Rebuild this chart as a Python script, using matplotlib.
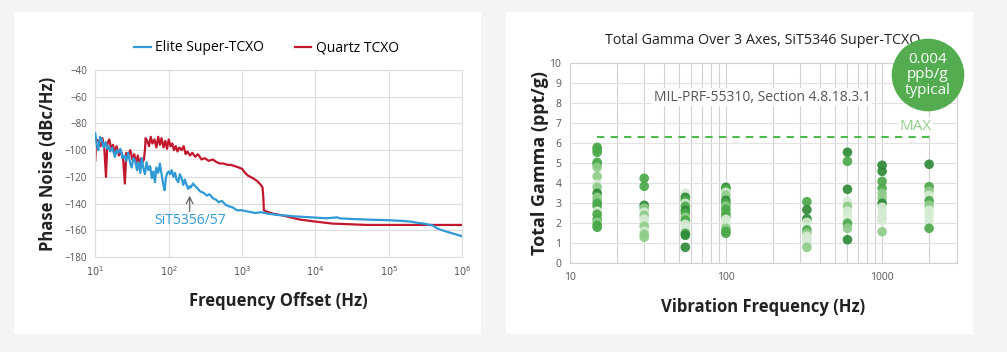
import matplotlib.pyplot as plt
import numpy as np
from matplotlib.patches import Rectangle, Ellipse

plt.rcParams['font.family'] = ['Open Sans', 'DejaVu Sans']

# ---- left chart: phase noise ----
elite_freq = [10, 10.5, 11, 11.6, 12.2, 13, 13.8, 14.5, 15, 16, 17, 18.5, 19.5, 20.5, 22,
              23.5, 25, 26.5, 28, 30, 31.5, 33, 35, 37, 39, 41, 43, 45, 47.5, 50, 53, 56,
              59, 62, 65, 68, 72, 76, 80, 84, 88, 92, 96, 100, 105, 110, 116, 122, 128,
              135, 142, 150, 158, 166, 175, 185, 193, 200, 215, 230, 250, 270, 300, 330,
              360, 400, 440, 480, 530, 600, 660, 750, 850, 1000, 1200, 1500, 1850, 2200,
              2600, 3000, 4000, 5000, 7000, 10000, 14000, 20000, 21000, 30000, 50000,
              100000, 150000, 200000, 250000, 300000, 400000, 450000, 500000, 700000, 1000000]
elite_db = [-87.5, -96, -100, -90, -92, -98, -94, -99, -97, -101, -98, -105, -100, -102, -99,
            -106, -104, -108, -102, -110, -113, -106, -108, -115, -109, -117, -106, -113, -118,
            -109, -115, -112, -121, -116, -124, -113, -117, -110, -118, -125, -130, -120,
            -117, -116, -118, -115, -120, -117, -122, -124, -118, -121, -126, -122, -126,
            -129, -127, -128, -125, -127, -129, -131, -132, -134, -133, -136, -137, -139,
            -138, -141, -142, -143, -145, -145, -146, -147, -146.5, -147.5, -148, -148.5,
            -149, -149.5, -150, -150.5, -151, -150.3, -151, -151.5, -152, -152.5, -153, -153.5,
            -154.5, -155, -156.5, -158.5, -159.5, -162, -164.5]

quartz_freq = [10, 10.3, 11, 11.8, 12.5, 13.3, 14, 14.6, 15.5, 16.5, 17.5, 18.5, 19.5, 21,
               22.5, 24, 25.3, 26.5, 28, 30, 32, 34, 36, 38, 40, 42, 44, 46, 47.5, 48.5, 51,
               54, 57, 60, 64, 68, 72, 76, 80, 85, 90, 95, 100, 106, 112, 118, 125, 132, 140,
               150, 160, 170, 180, 195, 210, 230, 250, 280, 310, 350, 400, 450, 500, 560, 630,
               700, 800, 900, 1000, 1100, 1200, 1400, 1600, 1800, 1900, 1950, 1980, 2160, 2600,
               3640, 6140, 10000, 17000, 30000, 50000, 100000, 1000000]
quartz_db = [-108, -92, -93, -97, -91, -99, -120, -95, -92, -99, -96, -103, -97, -104, -101,
             -107, -125, -102, -104, -100, -107, -103, -110, -104, -112, -106, -109, -107, -100,
             -91, -93, -97, -90, -95, -92, -98, -90, -96, -91, -98, -93, -99, -92, -97, -95,
             -100, -97, -101, -98, -100, -97, -103, -101, -104, -102, -105, -103, -107, -106,
             -108, -107, -109, -110, -110, -111, -111, -112, -113, -114, -117, -119, -121,
             -123, -126, -128, -136, -145, -146, -147.5, -149, -152, -153.5, -155, -155.5,
             -156, -156, -156]

# ---- right chart: total gamma ----
gamma_freq = [15] * 20 + [30] * 12 + [55] * 15 + [100] * 16 + [330] * 10 + [600] * 10 + \
             [1000] * 12 + [2000] * 10
gamma_val = [5.8, 5.7, 5.55, 5.05, 4.95, 4.8, 4.35, 3.95, 3.8, 3.5, 3.3, 3.15, 3.0, 2.85, 2.6,
             2.45, 2.2, 2.05, 1.9, 1.8,
             4.25, 3.85, 2.9, 2.75, 2.55, 2.4, 2.2, 2.0, 1.85, 1.6, 1.45, 1.3,
             3.5, 3.3, 3.15, 3.0, 2.85, 2.65, 2.5, 2.3, 2.15, 1.95, 1.8, 1.65, 1.5, 1.4, 0.8,
             3.8, 3.7, 3.55, 3.4, 3.15, 3.0, 2.85, 2.7, 2.5, 2.35, 2.2, 2.05, 1.9, 1.75, 1.6, 1.5,
             3.08, 2.68, 2.23, 2.05, 1.67, 1.5, 1.35, 1.2, 1.0, 0.8,
             5.55, 5.1, 3.7, 3.08, 2.85, 2.6, 2.35, 2.0, 1.75, 1.18,
             4.9, 4.6, 4.1, 3.75, 3.5, 3.25, 3.0, 2.8, 2.55, 2.3, 2.15, 1.58,
             4.95, 3.83, 3.6, 3.4, 3.13, 2.9, 2.65, 2.4, 2.15, 1.75]
# 0 dark, 1 mid, 2 light, 3 pale
gamma_shade = [1, 1, 1, 1, 1, 2, 2, 3, 2, 0, 2, 2, 1, 1, 3, 1, 1, 2, 1, 1,
               1, 1, 0, 2, 3, 2, 3, 3, 2, 3, 2, 2,
               3, 0, 1, 3, 1, 0, 1, 2, 1, 3, 3, 3, 1, 0, 0,
               0, 1, 3, 2, 0, 1, 2, 1, 1, 1, 3, 3, 3, 2, 1, 1,
               1, 0, 0, 3, 1, 2, 3, 3, 3, 2,
               0, 1, 0, 3, 2, 3, 3, 1, 2, 0,
               0, 0, 1, 1, 2, 2, 0, 3, 3, 3, 3, 2,
               0, 1, 2, 3, 1, 2, 3, 3, 3, 1]
gamma_max = 6.3

fig = plt.figure(figsize=(10.07, 3.52), dpi=100)
fig.patch.set_facecolor('#f4f4f4')
for x0 in [14 / 1007, 506 / 1007]:
    fig.add_artist(Rectangle((x0, 0.0511), 0.4638, 0.9148, transform=fig.transFigure,
                             facecolor='white', edgecolor='none', zorder=0))

grid_c = '#dcdcdc'
tick_c = '#555555'

# left
ax1 = fig.add_axes([0.0946, 0.2699, 0.3645, 0.5312])
ax1.plot(elite_freq, elite_db, color='#2f9ad6', lw=1.6, label='Elite Super-TCXO', zorder=3)
ax1.plot(quartz_freq, quartz_db, color='#c2172d', lw=1.6, label='Quartz TCXO', zorder=2)
ax1.set_xscale('log')
ax1.set_xlim(10, 1e6)
ax1.set_ylim(-180, -40)
ax1.set_yticks(np.arange(-180, -39, 20))
ax1.set_xticks([10 ** k for k in range(1, 7)])
ax1.set_xticklabels([r'$10^{%d}$' % k for k in range(1, 7)])
ax1.minorticks_off()
ax1.grid(True, color=grid_c, lw=0.8)
ax1.set_axisbelow(True)
ax1.tick_params(length=0, labelsize=7, labelcolor=tick_c, pad=6)
for s in ax1.spines.values():
    s.set_color(grid_c)
ax1.set_ylabel('Phase Noise (dBc/Hz)', fontsize=12, fontweight='bold', color='#222222', labelpad=5)
ax1.set_xlabel('Frequency Offset (Hz)', fontsize=12, fontweight='bold', color='#222222', labelpad=9)
ax1.legend(loc='center', bbox_to_anchor=(0.4665, 1.118), ncol=2, frameon=False, fontsize=10,
           handlelength=1.2, handletextpad=0.3, columnspacing=2.2)
ax1.annotate('', xy=(193, -132), xytext=(193, -148),
             arrowprops=dict(arrowstyle='->', color='#666666', lw=0.9, mutation_scale=12))
ax1.text(193, -153, 'SiT5356/57', color='#2f9ad6', fontsize=10, ha='center', va='center')

# right
ax2 = fig.add_axes([0.5657, 0.2520, 0.3843, 0.5682])
palette = ['#2e8b37', '#4ba94b', '#8fcc8a', '#d6ebd3']
ax2.scatter(gamma_freq, gamma_val, s=48, c=[palette[k] for k in gamma_shade],
            edgecolors='none', alpha=0.92, zorder=3)
ax2.plot([15, 2070], [gamma_max, gamma_max], color='#4cba4c', lw=1.5, ls=(0, (3.5, 3)), zorder=2)
ax2.set_xscale('log')
ax2.set_xlim(10, 3000)
ax2.set_ylim(0, 10)
ax2.set_yticks(range(0, 11))
ax2.set_xticks([10, 100, 1000])
ax2.set_xticklabels(['10', '100', '1000'])
minor = [m * 10 ** k for k in (1, 2) for m in range(2, 10)] + [2000, 3000]
ax2.set_xticks(minor, minor=True)
ax2.xaxis.set_minor_formatter(plt.NullFormatter())
ax2.grid(True, which='both', axis='x', color='#d2d2d2', lw=0.8)
ax2.grid(True, which='major', axis='y', color='#e2e2e2', lw=0.8)
ax2.set_axisbelow(True)
ax2.tick_params(which='both', length=0, labelsize=7.5, labelcolor=tick_c, pad=6)
for s in ax2.spines.values():
    s.set_color('#d2d2d2')
ax2.set_ylabel('Total Gamma (ppt/g)', fontsize=13, fontweight='bold', color='#222222', labelpad=0)
ax2.set_xlabel('Vibration Frequency (Hz)', fontsize=12, fontweight='bold', color='#222222', labelpad=11)
ax2.set_title('Total Gamma Over 3 Axes, SiT5346 Super-TCXO', fontsize=10.3, color='#222222', pad=14)
ax2.text(171, 8.3, 'MIL-PRF-55310, Section 4.8.18.3.1', fontsize=10, color='#555555',
         ha='center', va='center', bbox=dict(facecolor='white', edgecolor='none', pad=1))
ax2.text(1640, 6.83, 'MAX', fontsize=11, color='#8fd08b', ha='center', va='center',
         bbox=dict(facecolor='white', edgecolor='none', pad=0.5))

fig.add_artist(Ellipse((928 / 1007, 1 - 75 / 352), 72.6 / 1007, 72.6 / 352,
                       transform=fig.transFigure, facecolor='#53ad50', edgecolor='none', zorder=5))
fig.text(928 / 1007, 1 - 75 / 352, '0.004\nppb/g\ntypical', color='white', fontsize=11,
         ha='center', va='center', linespacing=1.05, zorder=6)

fig.savefig('out.png', dpi=100, facecolor=fig.get_facecolor())
